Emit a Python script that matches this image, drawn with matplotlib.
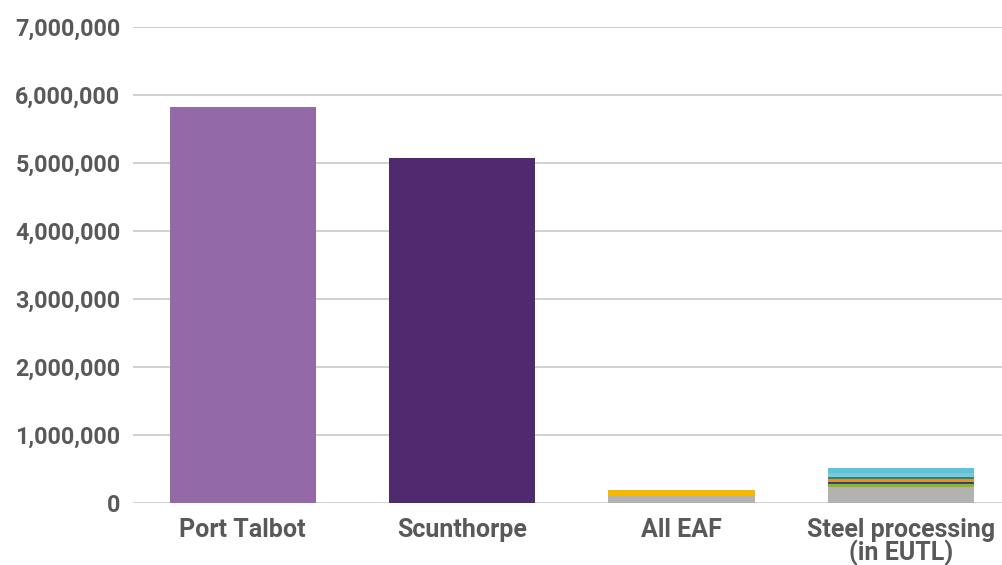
import matplotlib
matplotlib.use("Agg")
import matplotlib.pyplot as plt
from matplotlib.ticker import FuncFormatter

# categories and stacked values (tonnes CO2)
categories = ["Port Talbot", "Scunthorpe", "All EAF", "Steel processing\n(in EUTL)"]
layers = [
    [5820000, 5070000, 100000, 240000],   # main / grey base
    [0, 0, 90000, 40000],
    [0, 0, 0, 35000],
    [0, 0, 0, 35000],
    [0, 0, 0, 35000],
    [0, 0, 0, 55000],
    [0, 0, 0, 75000],
]
first_colors = ["#9469A8", "#502A6E", "#B3B2B0", "#B3B2B0"]
eaf_colors = [None, "#F5B800"]
steel_colors = [None, "#8DB42B", "#1F4E79", "#F28C1E", "#168D8F", "#7DC7D6", "#5BC4DA"]

plt.rcParams['font.family'] = ['Roboto', 'DejaVu Sans']
text_col = "#595959"

fig = plt.figure(figsize=(10.02, 5.65), dpi=100)
ax = fig.add_axes([133/1002, 62/565, 1 - 133/1002, (503 - 27)/565])

x = list(range(len(categories)))
width = 0.667
bottoms = [0] * len(categories)
for i, vals in enumerate(layers):
    for j, v in enumerate(vals):
        if v == 0:
            continue
        if i == 0:
            c = first_colors[j]
        elif j == 2:
            c = eaf_colors[i]
        else:
            c = steel_colors[i]
        ax.bar(x[j], v, width, bottom=bottoms[j], color=c, zorder=3)
        bottoms[j] += v

ax.set_ylim(0, 7000000)
ax.set_xlim(-0.5, 3.46)
ax.set_yticks(range(0, 7000001, 1000000))
ax.yaxis.set_major_formatter(FuncFormatter(lambda v, p: f"{int(v):,}"))
ax.grid(axis='y', color="#C8C8C8", linewidth=1.2, zorder=0)
ax.set_xticks(x)
ax.set_xticklabels(categories, linespacing=0.85)
for s in ax.spines.values():
    s.set_visible(False)
ax.tick_params(axis='both', length=0, colors=text_col)
ax.tick_params(axis='y', pad=9, labelsize=16.8)
ax.tick_params(axis='x', pad=11, labelsize=18)
for lbl in ax.get_xticklabels() + ax.get_yticklabels():
    lbl.set_fontweight('bold')
    lbl.set_color(text_col)

fig.savefig("out.png", dpi=100)
